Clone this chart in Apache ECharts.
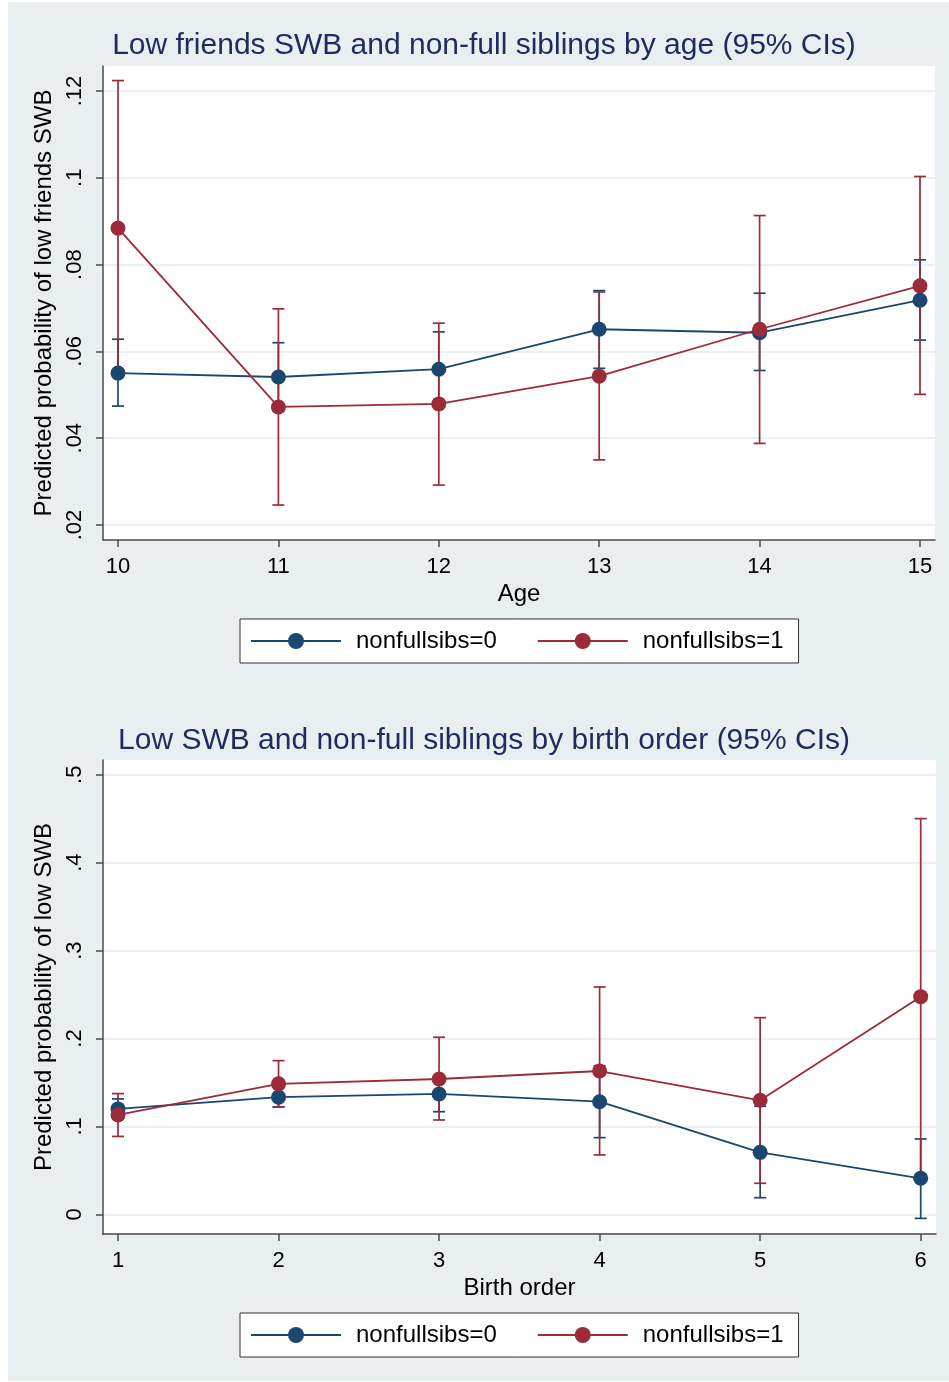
<!DOCTYPE html>
<html>
<head>
<meta charset="utf-8">
<script src="https://cdn.jsdelivr.net/npm/echarts@6/dist/echarts.min.js"></script>
<style>
  html, body { margin: 0; padding: 0; background: #ffffff; }
  #chart { width: 949px; height: 1382px; }
</style>
</head>
<body>
<div id="chart"></div>
<script>
// Panel 1: predicted probability of low friends SWB by age
const ages = [10, 11, 12, 13, 14, 15];
const friends0 = [0.0550, 0.0541, 0.0559, 0.0651, 0.0643, 0.0718];
const friends0Lo = [0.0474, 0.0462, 0.0473, 0.0561, 0.0556, 0.0626];
const friends0Hi = [0.0628, 0.0620, 0.0645, 0.0740, 0.0734, 0.0811];
const friends1 = [0.0884, 0.0472, 0.0479, 0.0543, 0.0651, 0.0751];
const friends1Lo = [0.0545, 0.0246, 0.0292, 0.0350, 0.0388, 0.0501];
const friends1Hi = [0.1224, 0.0698, 0.0665, 0.0737, 0.0913, 0.1003];
const friendsTicks = [0.02, 0.04, 0.06, 0.08, 0.10, 0.12];
const friendsTickLabels = ['.02', '.04', '.06', '.08', '.1', '.12'];

// Panel 2: predicted probability of low SWB by birth order
const orders = [1, 2, 3, 4, 5, 6];
const swb0 = [0.1199, 0.1333, 0.1369, 0.1281, 0.0705, 0.0410];
const swb0Lo = [0.1085, 0.1223, 0.1167, 0.0872, 0.0189, -0.0046];
const swb0Hi = [0.1313, 0.1443, 0.1571, 0.1690, 0.1230, 0.0857];
const swb1 = [0.1130, 0.1484, 0.1539, 0.1630, 0.1297, 0.2476];
const swb1Lo = [0.0886, 0.1220, 0.1073, 0.0675, 0.0353, 0.0451];
const swb1Hi = [0.1373, 0.1748, 0.2014, 0.2586, 0.2237, 0.4501];
const swbTicks = [0, 0.1, 0.2, 0.3, 0.4, 0.5];
const swbTickLabels = ['0', '.1', '.2', '.3', '.4', '.5'];

const groupNames = ['nonfullsibs=0', 'nonfullsibs=1'];

const NAVY = '#1a476f';
const MAROON = '#9c2b3a';
const AXIS = '#4a4a4a';
const GRIDLINE = '#e4ecef';
const TITLE = '#1d2b5e';
const FONT = '"Liberation Sans", Arial, Helvetica, sans-serif';

function pairs(xs, ys) { return xs.map((x, i) => [x, ys[i]]); }
function triples(xs, lo, hi) { return xs.map((x, i) => [x, lo[i], hi[i]]); }

// Capped vertical spike for a confidence interval
function ciRender(params, api) {
  const x = api.value(0);
  const pLo = api.coord([x, api.value(1)]);
  const pHi = api.coord([x, api.value(2)]);
  const hw = 6;
  const style = { stroke: api.visual('color'), lineWidth: 1.7 };
  return {
    type: 'group',
    children: [
      { type: 'line', shape: { x1: pLo[0], y1: pLo[1], x2: pHi[0], y2: pHi[1] }, style },
      { type: 'line', shape: { x1: pLo[0] - hw, y1: pLo[1], x2: pLo[0] + hw, y2: pLo[1] }, style },
      { type: 'line', shape: { x1: pHi[0] - hw, y1: pHi[1], x2: pHi[0] + hw, y2: pHi[1] }, style }
    ]
  };
}

function xAxisFor(gridIndex, values, min, max, name) {
  return {
    type: 'value', gridIndex, min, max, name,
    nameLocation: 'middle', nameGap: 42,
    nameTextStyle: { fontFamily: FONT, fontSize: 24, color: '#000' },
    axisLine: { show: true, onZero: false, lineStyle: { color: AXIS, width: 1.5 } },
    axisTick: { show: true, length: 7, customValues: values, lineStyle: { color: AXIS, width: 1.5 } },
    axisLabel: { customValues: values, margin: 16, fontFamily: FONT, fontSize: 22, color: '#000',
      formatter: v => String(Math.round(v)) },
    splitLine: { show: false }
  };
}

function yAxisFor(gridIndex, ticks, labels, min, max, name) {
  return {
    type: 'value', gridIndex, min, max, name,
    nameLocation: 'middle', nameRotate: 90, nameGap: 38,
    nameTextStyle: { fontFamily: FONT, fontSize: 24, color: '#000' },
    axisLine: { show: true, onZero: false, lineStyle: { color: AXIS, width: 1.5 } },
    axisTick: { show: true, length: 7, customValues: ticks, lineStyle: { color: AXIS, width: 1.5 } },
    axisLabel: { customValues: ticks, rotate: 90, margin: 17, fontFamily: FONT, fontSize: 22, color: '#000',
      formatter: v => {
        const i = ticks.findIndex(t => Math.abs(t - v) < 1e-9);
        return i >= 0 ? labels[i] : '';
      } },
    splitLine: { show: true, lineStyle: { color: GRIDLINE, width: 1.5 } }
  };
}

function ciSeries(idx, xs, lo, hi, color) {
  return {
    type: 'custom', xAxisIndex: idx, yAxisIndex: idx,
    renderItem: ciRender, data: triples(xs, lo, hi),
    encode: { x: 0, y: [1, 2] },
    itemStyle: { color }, silent: true, z: 2
  };
}

function lineSeries(idx, name, xs, ys, color) {
  return {
    type: 'line', name, xAxisIndex: idx, yAxisIndex: idx,
    data: pairs(xs, ys),
    symbol: 'circle', symbolSize: 15, showSymbol: true,
    itemStyle: { color },
    lineStyle: { color, width: 1.8 },
    z: 3
  };
}

function legendAt(top) {
  return {
    data: groupNames,
    left: 240, top,
    orient: 'horizontal',
    backgroundColor: '#ffffff',
    borderColor: '#333333', borderWidth: 1,
    padding: [10, 15, 10, 10],
    itemWidth: 90, itemHeight: 20, itemGap: 40,
    selectedMode: false,
    textStyle: { fontFamily: FONT, fontSize: 24, color: '#000', padding: [0, 0, 0, 10], lineHeight: 24 }
  };
}

const chart = echarts.init(document.getElementById('chart'), null, { renderer: 'canvas' });

chart.setOption({
  animation: false,
  backgroundColor: '#ffffff',
  graphic: [
    { type: 'rect', z: -10, silent: true, shape: { x: 8, y: 2, width: 941, height: 1379 }, style: { fill: '#e7eff1' } },
    { type: 'text', z: 10, silent: true, x: 484, y: 46,
      style: { text: 'Low friends SWB and non-full siblings by age (95% CIs)', font: '30px ' + FONT,
        fill: TITLE, align: 'center', verticalAlign: 'middle' } },
    { type: 'text', z: 10, silent: true, x: 484, y: 741,
      style: { text: 'Low SWB and non-full siblings by birth order (95% CIs)', font: '30px ' + FONT,
        fill: TITLE, align: 'center', verticalAlign: 'middle' } }
  ],
  grid: [
    { left: 103, top: 66, width: 832, height: 474, show: true, backgroundColor: '#ffffff', borderWidth: 0 },
    { left: 103, top: 760, width: 833, height: 474, show: true, backgroundColor: '#ffffff', borderWidth: 0 }
  ],
  legend: [legendAt(619), legendAt(1313)],
  xAxis: [
    xAxisFor(0, ages, 9.9065, 15.0935, 'Age'),
    xAxisFor(1, orders, 0.9066, 6.0953, 'Birth order')
  ],
  yAxis: [
    yAxisFor(0, friendsTicks, friendsTickLabels, 0.01654, 0.12576, 'Predicted probability of low friends SWB'),
    yAxisFor(1, swbTicks, swbTickLabels, -0.0224, 0.5168, 'Predicted probability of low SWB')
  ],
  series: [
    ciSeries(0, ages, friends0Lo, friends0Hi, NAVY),
    ciSeries(0, ages, friends1Lo, friends1Hi, MAROON),
    lineSeries(0, groupNames[0], ages, friends0, NAVY),
    lineSeries(0, groupNames[1], ages, friends1, MAROON),
    ciSeries(1, orders, swb0Lo, swb0Hi, NAVY),
    ciSeries(1, orders, swb1Lo, swb1Hi, MAROON),
    lineSeries(1, groupNames[0], orders, swb0, NAVY),
    lineSeries(1, groupNames[1], orders, swb1, MAROON)
  ]
});
</script>
</body>
</html>
